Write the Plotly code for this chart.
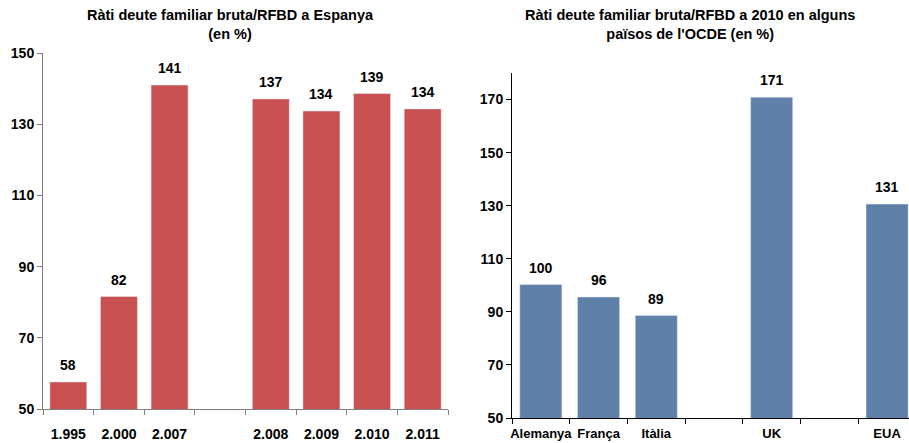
import plotly.graph_objects as go

# left chart: Spain, ratio of gross household debt to disposable income
years = ["1.995", "2.000", "2.007", " ", "2.008", "2.009", "2.010", "2.011"]
spain_ratio = [57.6, 81.6, 141.0, None, 137.1, 133.7, 138.6, 134.3]

# right chart: some OECD countries in 2010
countries = ["Alemanya", "França", "Itàlia", " ", "UK", "  ", "EUA"]
oecd_ratio = [100.3, 95.6, 88.6, None, 170.9, None, 130.6]

left_ticks = [50, 70, 90, 110, 130, 150]
right_ticks = [50, 70, 90, 110, 130, 150, 170]

W, H = 909, 443
FONT = "Liberation Sans, Arial, sans-serif"
font_bold = dict(family=FONT, size=14, color="black")

fig = go.Figure()

fig.add_trace(go.Bar(
    x=years, y=spain_ratio, marker_color="#C85050",
    xaxis="x", yaxis="y", showlegend=False, hoverinfo="x+y",
))
fig.add_trace(go.Bar(
    x=countries, y=oecd_ratio, marker_color="#5E80A9",
    xaxis="x2", yaxis="y2", showlegend=False, hoverinfo="x+y",
))

def px_x(v):
    return v / W

def px_y(v):
    return 1 - v / H

axis_common = dict(
    showgrid=False, zeroline=False, showline=True, automargin=False,
    ticks="outside", ticklen=5, tickfont=font_bold,
)

# value labels over the bars (x given as category index, so "1.995" isn't read as a number)
labels = []
for xs, ys, xr, yr in [(years, spain_ratio, "x", "y"), (countries, oecd_ratio, "x2", "y2")]:
    for i, val in enumerate(ys):
        if val is None:
            continue
        labels.append(dict(
            text=f"<b>{val:.0f}</b>", x=i, y=val, xref=xr, yref=yr,
            xanchor="center", yanchor="bottom", yshift=7,
            showarrow=False, font=font_bold,
        ))

titles = [
    dict(text="<b>Ràti deute familiar bruta/RFBD a Espanya<br>(en %)</b>",
         x=px_x(230), y=px_y(5), xref="paper", yref="paper",
         xanchor="center", yanchor="top", showarrow=False,
         font=dict(family=FONT, size=14.5, color="black")),
    dict(text="<b>Ràti deute familiar bruta/RFBD a 2010 en alguns<br>països de l'OCDE (en %)</b>",
         x=px_x(690), y=px_y(5), xref="paper", yref="paper",
         xanchor="center", yanchor="top", showarrow=False,
         font=dict(family=FONT, size=14.5, color="black")),
]

fig.update_layout(
    width=W, height=H,
    margin=dict(l=0, r=0, t=0, b=0),
    plot_bgcolor="white", paper_bgcolor="white",
    bargap=0.27,
    font=font_bold,
    xaxis=dict(
        axis_common, domain=[px_x(43), px_x(448)], anchor="y",
        type="category", categoryorder="array", categoryarray=years,
        tickson="boundaries", linecolor="#7f7f7f", tickcolor="#7f7f7f",
        tickprefix="<b>", ticksuffix="</b>", tickangle=0, ticklabelstandoff=12,
    ),
    yaxis=dict(
        axis_common, domain=[px_y(409), px_y(53)], anchor="x",
        range=[50, 150], tickvals=left_ticks,
        ticktext=[f"<b>{t}</b>" for t in left_ticks],
        linecolor="#7f7f7f", tickcolor="#7f7f7f",
    ),
    # the original chart is cropped on the right, cutting the last slot short
    xaxis2=dict(
        axis_common, domain=[px_x(512), 1.0], anchor="y2",
        type="category", categoryorder="array", categoryarray=countries,
        range=[-0.5, 6.38],
        tickson="boundaries", linecolor="black", tickcolor="black",
        tickprefix="<b>", ticksuffix="</b>", tickangle=0, ticklabelstandoff=3,
        tickfont=dict(family=FONT, size=13, color="black"),
    ),
    yaxis2=dict(
        axis_common, domain=[px_y(418), px_y(73)], anchor="x2",
        range=[50, 180], tickvals=right_ticks,
        ticktext=[f"<b>{t}</b>" for t in right_ticks],
        linecolor="black", tickcolor="black",
    ),
    annotations=titles + labels,
)

fig.write_html("out.html", config={"displayModeBar": False},
               post_script="document.body.style.margin='0';")
